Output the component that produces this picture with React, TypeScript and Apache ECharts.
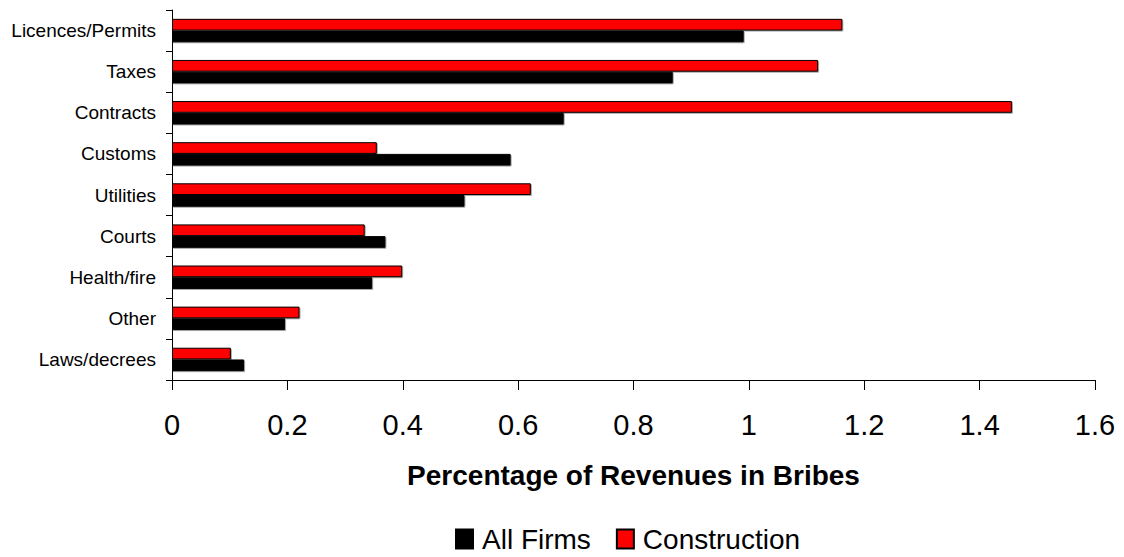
import React, { useEffect, useRef } from "react";
import * as echarts from "echarts";

// Categories listed bottom to top (ECharts category y axis starts at the bottom)
const categories = [
  "Laws/decrees",
  "Other",
  "Health/fire",
  "Courts",
  "Utilities",
  "Customs",
  "Contracts",
  "Taxes",
  "Licences/Permits",
];
const allFirms = [0.125, 0.196, 0.347, 0.370, 0.507, 0.587, 0.679, 0.868, 0.991];
const construction = [0.102, 0.221, 0.399, 0.334, 0.622, 0.355, 1.456, 1.120, 1.162];
const xTicks = { min: 0, max: 1.6, interval: 0.2 };
const axisTitle = "Percentage of Revenues in Bribes";
const seriesNames = ["All Firms", "Construction"];

const FONT = 'Arial, "Liberation Sans", sans-serif';

export default function App() {
  const ref = useRef<HTMLDivElement>(null);
  useEffect(() => {
    if (!ref.current) return;
    const chart = echarts.init(ref.current, undefined, { renderer: "svg" });
    const barStyle = (color: string) => ({
      color,
      borderColor: "#000",
      borderWidth: 1,
      shadowColor: "rgba(0,0,0,0.35)",
      shadowOffsetX: 1,
      shadowOffsetY: 1,
      shadowBlur: 0,
    });
    chart.setOption({
      animation: false,
      backgroundColor: "#fff",
      textStyle: { fontFamily: FONT },
      grid: { left: 172, right: 29, top: 10, bottom: 177, containLabel: false },
      legend: {
        data: seriesNames,
        icon: "rect",
        left: 450,
        top: 520,
        itemWidth: 17,
        itemHeight: 19,
        itemGap: 25,
        textStyle: { fontSize: 28, color: "#000", fontFamily: FONT, padding: [0, 0, 0, 4] },
      },
      xAxis: {
        type: "value",
        min: xTicks.min,
        max: xTicks.max,
        interval: xTicks.interval,
        name: axisTitle,
        nameLocation: "middle",
        nameGap: 81,
        nameTextStyle: { fontSize: 28, fontWeight: "bold", color: "#000", fontFamily: FONT },
        axisLine: { show: true, lineStyle: { color: "#000", width: 1 } },
        axisTick: { show: true, length: 10, lineStyle: { color: "#000" } },
        splitLine: { show: false },
        axisLabel: {
          fontSize: 29,
          color: "#000",
          margin: 30,
          fontFamily: FONT,
          formatter: (v: number) => String(Math.round(v * 10) / 10),
        },
      },
      yAxis: {
        type: "category",
        data: categories,
        axisLine: { show: true, lineStyle: { color: "#000", width: 1 } },
        axisTick: { show: true, length: 6, lineStyle: { color: "#000" } },
        axisLabel: { fontSize: 19, color: "#000", margin: 16, fontFamily: FONT },
        splitLine: { show: false },
      },
      series: [
        {
          name: seriesNames[1],
          type: "bar",
          data: construction,
          barGap: "0%",
          barCategoryGap: "43%",
          itemStyle: barStyle("#ff0000"),
        },
        {
          name: seriesNames[0],
          type: "bar",
          data: allFirms,
          barGap: "0%",
          barCategoryGap: "43%",
          itemStyle: barStyle("#000000"),
        },
      ],
    });
    return () => chart.dispose();
  }, []);
  return (
    <div
      ref={ref}
      style={{ position: "fixed", left: 0, top: 0, width: 1124, height: 557 }}
    />
  );
}
